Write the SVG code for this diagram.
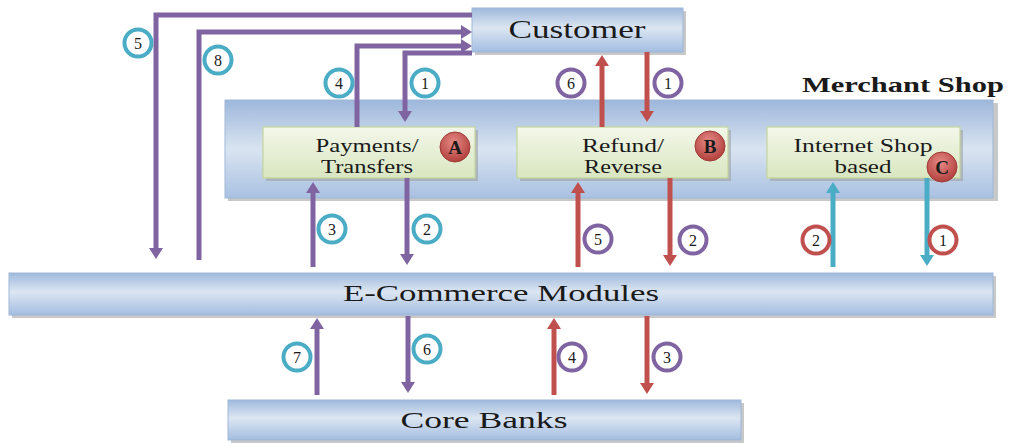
<svg xmlns="http://www.w3.org/2000/svg" width="1011" height="443" viewBox="0 0 1011 443">
<style>
.bb{stroke:#9fb7d8;stroke-width:1}
.sh{fill:#9a9a9a;opacity:0.55}
.gb{fill:url(#gGreen);stroke:#c3d69b;stroke-width:1.2}
.t{font-family:"Liberation Serif","Times New Roman",serif;fill:#1a1a1a;text-anchor:middle}
.big{font-size:25px}
.mid{font-size:18px}
.num{font-family:"Liberation Serif","Times New Roman",serif;font-size:16px;fill:#1a1a1a;text-anchor:middle}
.ct{fill:#fff;stroke:#4bacc6;stroke-width:4}
.cp{fill:#fff;stroke:#8064a2;stroke-width:4}
.cr{fill:#fff;stroke:#c0504d;stroke-width:4}
.lp{fill:none;stroke:#8064a2;stroke-width:5}
.lr{fill:none;stroke:#c0504d;stroke-width:5}
.lt{fill:none;stroke:#4bacc6;stroke-width:5}
.badge{fill:url(#gRed);stroke:#9e3a37;stroke-width:1}
.bl{font-family:"Liberation Serif","Times New Roman",serif;font-size:19px;font-weight:bold;fill:#1a1a1a;text-anchor:middle}
</style>
<defs>
<linearGradient id="gBlue" x1="0" y1="0" x2="0" y2="1">
<stop offset="0" stop-color="#9fb9dc"/>
<stop offset="0.45" stop-color="#dce6f2"/>
<stop offset="1" stop-color="#a3bde0"/>
</linearGradient>
<linearGradient id="gShop" x1="0" y1="0" x2="0" y2="1">
<stop offset="0" stop-color="#9db7db"/>
<stop offset="0.5" stop-color="#d9e4f1"/>
<stop offset="1" stop-color="#a9c1e1"/>
</linearGradient>
<linearGradient id="gGreen" x1="0" y1="0" x2="0" y2="1">
<stop offset="0" stop-color="#f3f7ea"/>
<stop offset="1" stop-color="#d9e6c0"/>
</linearGradient>
<radialGradient id="gRed" cx="0.45" cy="0.35" r="0.65">
<stop offset="0" stop-color="#e58a86"/>
<stop offset="1" stop-color="#b2403c"/>
</radialGradient>
<marker id="mP" markerUnits="userSpaceOnUse" viewBox="0 0 11 14" markerWidth="11" markerHeight="14" refX="0" refY="7" orient="auto"><path d="M0,0 L11,7 L0,14 z" fill="#8064a2"/></marker>
<marker id="mR" markerUnits="userSpaceOnUse" viewBox="0 0 11 14" markerWidth="11" markerHeight="14" refX="0" refY="7" orient="auto"><path d="M0,0 L11,7 L0,14 z" fill="#c0504d"/></marker>
<marker id="mT" markerUnits="userSpaceOnUse" viewBox="0 0 11 14" markerWidth="11" markerHeight="14" refX="0" refY="7" orient="auto"><path d="M0,0 L11,7 L0,14 z" fill="#4bacc6"/></marker>
</defs>
<rect width="1011" height="443" fill="#ffffff"/>

<g id="merchant-shop">
<rect class="sh" x="228" y="103" width="770" height="98"/>
<rect x="225" y="100" width="768" height="98" fill="url(#gShop)" class="bb"/>
<text x="903" y="92" font-family="'Liberation Serif','Times New Roman',serif" font-size="22" font-weight="bold" fill="#1a1a1a" text-anchor="middle" textLength="202" lengthAdjust="spacingAndGlyphs">Merchant Shop</text>
</g>

<g id="customer">
<rect class="sh" x="475" y="11" width="211" height="44"/>
<rect x="472" y="8" width="211" height="44" fill="url(#gBlue)" class="bb"/>
<text class="t big" x="577" y="38" textLength="137" lengthAdjust="spacingAndGlyphs">Customer</text>
</g>

<g id="payments">
<rect class="sh" x="266" y="130" width="212" height="51"/>
<rect class="gb" x="263" y="127" width="212" height="51"/>
<text class="t mid" x="367" y="152" textLength="103" lengthAdjust="spacingAndGlyphs">Payments/</text>
<text class="t mid" x="367" y="173" textLength="92" lengthAdjust="spacingAndGlyphs">Transfers</text>
<circle class="badge" cx="455" cy="147" r="15"/>
<text class="bl" x="455" y="154">A</text>
</g>

<g id="refund">
<rect class="sh" x="520" y="130" width="211" height="51"/>
<rect class="gb" x="517" y="127" width="211" height="51"/>
<text class="t mid" x="623" y="152" textLength="82" lengthAdjust="spacingAndGlyphs">Refund/</text>
<text class="t mid" x="623" y="173" textLength="78" lengthAdjust="spacingAndGlyphs">Reverse</text>
<circle class="badge" cx="710" cy="146" r="15"/>
<text class="bl" x="710" y="153">B</text>
</g>

<g id="internet-shop">
<rect class="sh" x="770" y="130" width="193" height="51"/>
<rect class="gb" x="767" y="127" width="193" height="51"/>
<text class="t mid" x="863" y="152" textLength="139" lengthAdjust="spacingAndGlyphs">Internet Shop</text>
<text class="t mid" x="863" y="173" textLength="57" lengthAdjust="spacingAndGlyphs">based</text>
<circle class="badge" cx="942" cy="167" r="15"/>
<text class="bl" x="942" y="174">C</text>
</g>

<g id="ecommerce">
<rect class="sh" x="12" y="276" width="984" height="42"/>
<rect x="9" y="273" width="984" height="42" fill="url(#gBlue)" class="bb"/>
<text class="t" font-size="24" x="501" y="301" textLength="316" lengthAdjust="spacingAndGlyphs">E-Commerce Modules</text>
</g>

<g id="core-banks">
<rect class="sh" x="231" y="403" width="513" height="40"/>
<rect x="228" y="400" width="513" height="40" fill="url(#gBlue)" class="bb"/>
<text class="t" font-size="24" x="484" y="428" textLength="167" lengthAdjust="spacingAndGlyphs">Core Banks</text>
</g>

<g id="connectors">
<path class="lp" d="M472,15 H156 V248" marker-end="url(#mP)"/>
<path class="lp" d="M199,260 V32 H461" marker-end="url(#mP)"/>
<path class="lp" d="M357,127 V46 H461" marker-end="url(#mP)"/>
<path class="lp" d="M472,53 H405 V111" marker-end="url(#mP)"/>
<path class="lp" d="M313,267 V193" marker-end="url(#mP)"/>
<path class="lp" d="M407,178 V254" marker-end="url(#mP)"/>
<path class="lp" d="M317,395 V329" marker-end="url(#mP)"/>
<path class="lp" d="M408,316 V382" marker-end="url(#mP)"/>
<path class="lr" d="M602,127 V66" marker-end="url(#mR)"/>
<path class="lr" d="M647,52 V111" marker-end="url(#mR)"/>
<path class="lr" d="M578,267 V193" marker-end="url(#mR)"/>
<path class="lr" d="M670,178 V255" marker-end="url(#mR)"/>
<path class="lr" d="M554,395 V329" marker-end="url(#mR)"/>
<path class="lr" d="M647,316 V383" marker-end="url(#mR)"/>
<path class="lt" d="M833,267 V193" marker-end="url(#mT)"/>
<path class="lt" d="M927,178 V255" marker-end="url(#mT)"/>
</g>

<g id="labels">
<circle class="ct" cx="138" cy="43" r="13.5"/><text class="num" x="138" y="49">5</text>
<circle class="ct" cx="218" cy="60" r="13.5"/><text class="num" x="218" y="66">8</text>
<circle class="ct" cx="339" cy="83" r="13.5"/><text class="num" x="339" y="89">4</text>
<circle class="ct" cx="425" cy="83" r="13.5"/><text class="num" x="425" y="89">1</text>
<circle class="ct" cx="332" cy="229" r="13.5"/><text class="num" x="332" y="235">3</text>
<circle class="ct" cx="427" cy="229" r="13.5"/><text class="num" x="427" y="235">2</text>
<circle class="ct" cx="297" cy="357" r="13.5"/><text class="num" x="297" y="363">7</text>
<circle class="ct" cx="427" cy="349" r="13.5"/><text class="num" x="427" y="355">6</text>
<circle class="cp" cx="571" cy="83" r="13.5"/><text class="num" x="571" y="89">6</text>
<circle class="cp" cx="668" cy="83" r="13.5"/><text class="num" x="668" y="89">1</text>
<circle class="cp" cx="598" cy="239" r="13.5"/><text class="num" x="598" y="245">5</text>
<circle class="cp" cx="693" cy="240" r="13.5"/><text class="num" x="693" y="246">2</text>
<circle class="cp" cx="572" cy="357" r="13.5"/><text class="num" x="572" y="363">4</text>
<circle class="cp" cx="667" cy="357" r="13.5"/><text class="num" x="667" y="363">3</text>
<circle class="cr" cx="816" cy="240" r="13.5"/><text class="num" x="816" y="246">2</text>
<circle class="cr" cx="943" cy="240" r="13.5"/><text class="num" x="943" y="246">1</text>
</g>
</svg>
